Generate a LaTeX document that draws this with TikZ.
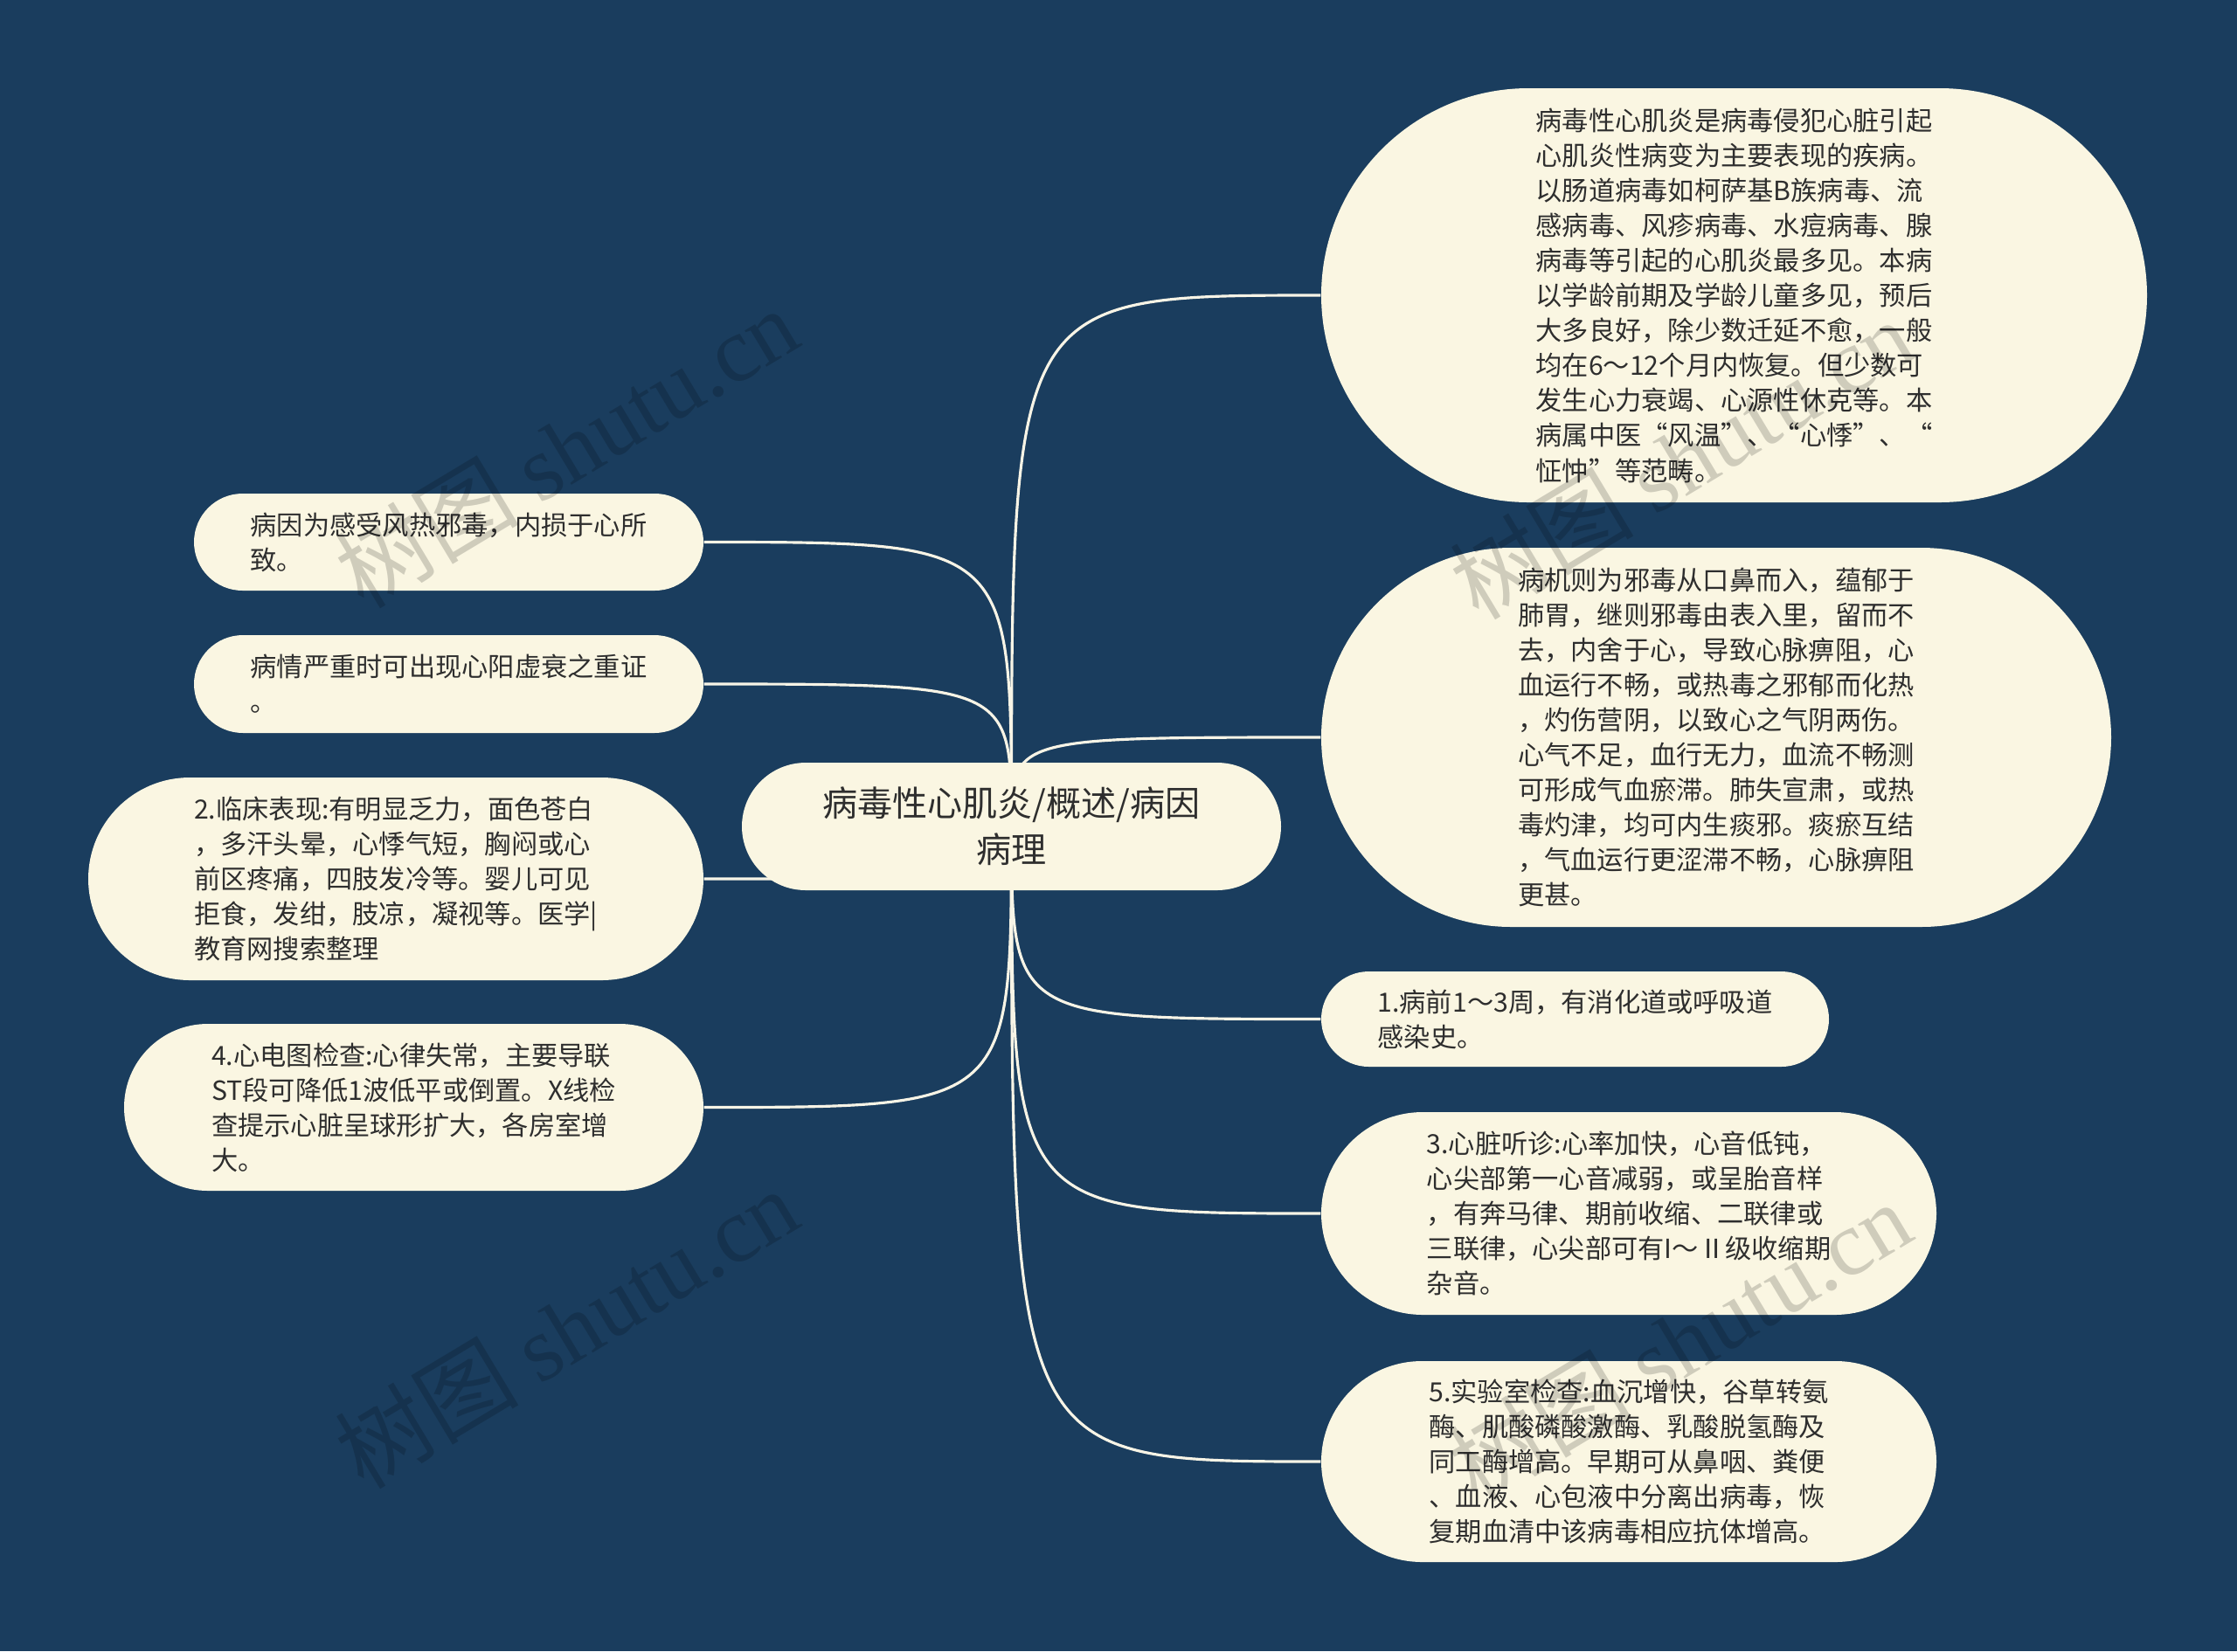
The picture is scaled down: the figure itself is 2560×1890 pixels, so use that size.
\documentclass[tikz,border=0pt]{standalone}
\usepackage{fontspec}
\setmainfont{Noto Sans CJK SC}
\newfontfamily\wmlatin{Liberation Serif}
\usetikzlibrary{calc}
\definecolor{bgblue}{HTML}{1A3D5E}
\definecolor{nodecream}{HTML}{FAF6E2}
\definecolor{txtdark}{HTML}{2E2E2E}
\definecolor{linecol}{HTML}{F7F4E6}
\pgfdeclarelayer{bglayer}
\pgfdeclarelayer{linelayer}
\pgfsetlayers{bglayer,linelayer,main}
\tikzset{
  pill/.style 2 args={draw=none, fill=nodecream, text=txtdark, inner sep=0pt,
    minimum width=#1*0.01cm, minimum height=#2*0.01cm, rounded corners=#2*0.005cm,
    align=left, font=\fontsize{8.6pt}{11.4pt}\selectfont},
  rootpill/.style 2 args={pill={#1}{#2}, align=center, font=\fontsize{11.4pt}{15.1pt}\selectfont},
  conn/.style={draw=linecol, line width=0.9pt},
  wmark/.style={text=black, opacity=0.17, rotate=31, inner sep=0pt, font=\fontsize{30pt}{30pt}\selectfont}
}
\begin{document}
\begin{tikzpicture}[x=0.01cm,y=-0.01cm]
\useasboundingbox (0,0) rectangle (2560,1890);
\begin{pgfonlayer}{bglayer}
\fill[bgblue] (0,0) rectangle (2560,1890);
\end{pgfonlayer}

\node[rootpill={617}{146}] (c) at (1157.5,946) {病毒性心肌炎/概述/病因\\病理};

\node[pill={945}{474}] (r1) at (1984.5,338) {病毒性心肌炎是病毒侵犯心脏引起\\心肌炎性病变为主要表现的疾病。\\以肠道病毒如柯萨基B族病毒、流\\感病毒、风疹病毒、水痘病毒、腺\\病毒等引起的心肌炎最多见。本病\\以学龄前期及学龄儿童多见，预后\\大多良好，除少数迁延不愈，一般\\均在6～12个月内恢复。但少数可\\发生心力衰竭、心源性休克等。本\\病属中医“风温”、“心悸”、“\\怔忡”等范畴。};

\node[pill={904}{434}] (r2) at (1964,844) {病机则为邪毒从口鼻而入，蕴郁于\\肺胃，继则邪毒由表入里，留而不\\去，内舍于心，导致心脉痹阻，心\\血运行不畅，或热毒之邪郁而化热\\，灼伤营阴，以致心之气阴两伤。\\心气不足，血行无力，血流不畅测\\可形成气血瘀滞。肺失宣肃，或热\\毒灼津，均可内生痰邪。痰瘀互结\\，气血运行更涩滞不畅，心脉痹阻\\更甚。};

\node[pill={581}{109}] (r3) at (1802.5,1166.5) {1.病前1～3周，有消化道或呼吸道\\感染史。};

\node[pill={704}{232}] (r4) at (1864,1389) {3.心脏听诊:心率加快，心音低钝，\\心尖部第一心音减弱，或呈胎音样\\，有奔马律、期前收缩、二联律或\\三联律，心尖部可有I～Ⅱ级收缩期\\杂音。};

\node[pill={704}{230}] (r5) at (1864,1673) {5.实验室检查:血沉增快，谷草转氨\\酶、肌酸磷酸激酶、乳酸脱氢酶及\\同工酶增高。早期可从鼻咽、粪便\\、血液、心包液中分离出病毒，恢\\复期血清中该病毒相应抗体增高。};

\node[pill={583}{111}] (l1) at (513.5,620.5) {病因为感受风热邪毒，内损于心所\\致。};

\node[pill={583}{112}] (l2) at (513.5,783) {病情严重时可出现心阳虚衰之重证\\。};

\node[pill={704}{232}] (l3) at (453,1006) {2.临床表现:有明显乏力，面色苍白\\，多汗头晕，心悸气短，胸闷或心\\前区疼痛，四肢发冷等。婴儿可见\\拒食，发绀，肢凉，凝视等。医学|\\教育网搜索整理};

\node[pill={663}{191}] (l4) at (473.5,1267.5) {4.心电图检查:心律失常，主要导联\\ST段可降低1波低平或倒置。X线检\\查提示心脏呈球形扩大，各房室增\\大。};

\begin{pgfonlayer}{linelayer}
\foreach \t in {r1,r2,r3,r4,r5}{
  \draw[conn] (c.center) .. controls (c.center |- \t.west) .. (\t.west);
}
\foreach \t in {l1,l2,l3,l4}{
  \draw[conn] (c.center) .. controls (c.center |- \t.east) .. (\t.east);
}
\end{pgfonlayer}

\node[wmark] (w1) at (648,512) {树图 {\wmlatin shutu.cn}};
\node[wmark] (w2) at (1924,525) {树图 {\wmlatin shutu.cn}};
\node[wmark] (w3) at (648,1520) {树图 {\wmlatin shutu.cn}};
\node[wmark] (w4) at (1922,1535) {树图 {\wmlatin shutu.cn}};
\end{tikzpicture}
\end{document}
